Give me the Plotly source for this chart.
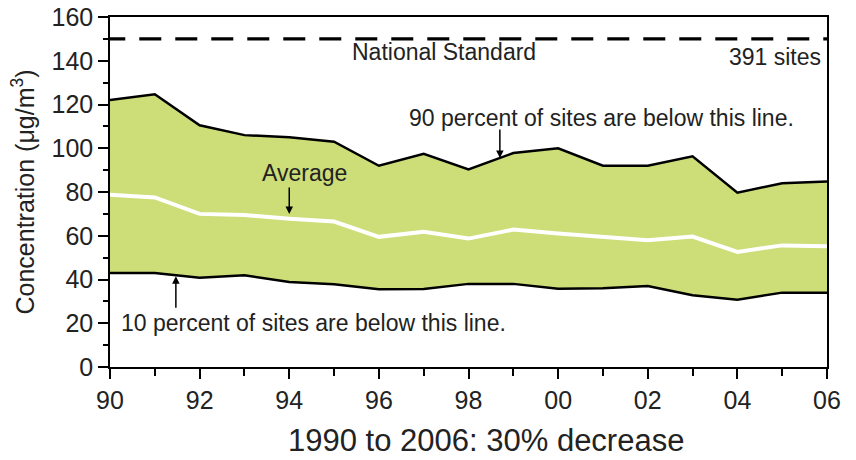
import plotly.graph_objects as go

years = list(range(1990, 2007))
p90 = [122, 124.7, 110.5, 106, 105, 103, 92, 97.5, 90.3, 97.8, 100, 92, 92, 96.3, 79.7, 84, 84.8]
avg = [78.8, 77.5, 70, 69.5, 67.8, 66.5, 59.5, 61.8, 58.7, 62.8, 61, 59.5, 58, 59.6, 52.6, 55.6, 55.2]
p10 = [43, 43, 40.8, 41.9, 38.9, 37.8, 35.6, 35.7, 38, 38, 35.8, 36, 37, 32.8, 30.8, 34, 34]
standard = 150
tick_years = list(range(1990, 2007, 2))
tick_labels = ["90", "92", "94", "96", "98", "00", "02", "04", "06"]

FONT = "Liberation Sans, Arial, sans-serif"
GREEN = "rgb(205,221,120)"

fig = go.Figure()
fig.add_trace(go.Scatter(x=years, y=p10, mode="lines",
                         line=dict(color="black", width=2.5), showlegend=False))
fig.add_trace(go.Scatter(x=years, y=p90, mode="lines", fill="tonexty",
                         fillcolor=GREEN, line=dict(color="black", width=2.5),
                         showlegend=False))
fig.add_trace(go.Scatter(x=years, y=avg, mode="lines",
                         line=dict(color="white", width=4), showlegend=False))
fig.add_trace(go.Scatter(x=[years[0] - 0.15, years[-1]], y=[standard, standard], mode="lines",
                         line=dict(color="black", width=3.2, dash="22px,14px"),
                         showlegend=False, cliponaxis=False))

tf = dict(family=FONT, size=23, color="#222")
ann = [
    dict(x=1997.45, y=143.8, text="National Standard", showarrow=False, font=tf),
    dict(x=2005.9, y=141.8, text="391 sites", showarrow=False, xanchor="right", font=tf),
    dict(x=2000.96, y=113.8, text="90 percent of sites are below this line.", showarrow=False, font=tf),
    dict(x=1994.33, y=88.6, text="Average", showarrow=False, font=tf),
    dict(x=1990.2, y=20.3, text="10 percent of sites are below this line.", showarrow=False,
         xanchor="left", font=tf),
    dict(x=1998.7, y=95.5, text="", showarrow=True, ax=0, ay=-30, arrowhead=2,
         arrowsize=1, arrowwidth=1.5, arrowcolor="black"),
    dict(x=1994.0, y=70, text="", showarrow=True, ax=0, ay=-28, arrowhead=2,
         arrowsize=1, arrowwidth=1.5, arrowcolor="black"),
    dict(x=1991.47, y=41.5, text="", showarrow=True, ax=0, ay=33, arrowhead=2,
         arrowsize=1, arrowwidth=1.5, arrowcolor="black"),
    dict(xref="paper", yref="paper", x=0.525, y=0, yanchor="middle", yshift=-73,
         text="1990 to 2006: 30% decrease", showarrow=False,
         font=dict(size=31, family=FONT, color="#222")),
]

fig.update_layout(
    width=856, height=460,
    margin=dict(l=110, r=29, t=17, b=93),
    paper_bgcolor="white", plot_bgcolor="white",
    font=dict(family=FONT, color="#222"),
    annotations=ann,
    xaxis=dict(range=[1990, 2006], tickvals=tick_years, ticktext=tick_labels,
               ticks="outside", ticklen=10, tickwidth=1.5, tickcolor="black",
               minor=dict(dtick=1, ticks="outside", ticklen=7, tickwidth=1.5, tickcolor="black"),
               showline=True, linecolor="black", linewidth=1.5, mirror=True,
               showgrid=False, zeroline=False, automargin=False,
               tickfont=dict(size=25, family=FONT, color="#222")),
    yaxis=dict(range=[0, 160], dtick=20, tick0=0,
               ticks="outside", ticklen=10, tickwidth=1.5, tickcolor="black",
               minor=dict(dtick=10, ticks="outside", ticklen=5, tickwidth=1.5, tickcolor="black"),
               showline=True, linecolor="black", linewidth=1.5, mirror=True,
               showgrid=False, zeroline=False, automargin=False,
               tickfont=dict(size=25, family=FONT, color="#222"),
               title=dict(text="Concentration (μg/m<sup>3</sup>)", font=dict(size=25, family=FONT, color="#222"),
                          standoff=10)),
)

fig.write_html("out.html", config={"displayModeBar": False},
               post_script="document.body.style.margin='0';")
